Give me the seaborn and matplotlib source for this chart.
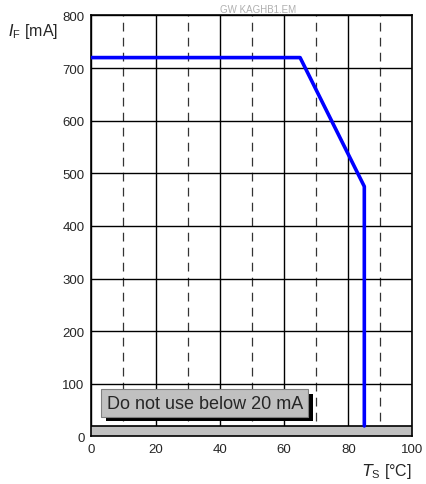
import matplotlib
matplotlib.use("Agg")
import matplotlib.pyplot as plt
import matplotlib.patheffects as pe
import pandas as pd
import seaborn as sns

# derating curve
temps = [0, 65, 85, 85]
current = [720, 720, 475, 20]
x_ticks = [0, 20, 40, 60, 80, 100]
y_ticks = [0, 100, 200, 300, 400, 500, 600, 700, 800]
min_current = 20

df = pd.DataFrame({"T_S": temps, "I_F": current})

sns.set_style("white")
plt.rcParams["font.family"] = ["Liberation Sans", "DejaVu Sans"]

fig = plt.figure(figsize=(4.27, 4.85), dpi=100)
ax = fig.add_axes([0.214, 0.098, 0.752, 0.868])

ax.set_xlim(0, 100)
ax.set_ylim(0, 800)
ax.set_xticks(x_ticks)
ax.set_xticks([10, 30, 50, 70, 90], minor=True)
ax.set_yticks(y_ticks)
ax.grid(which="major", color="black", linewidth=1.0, linestyle="-")
ax.grid(which="minor", axis="x", color="#333333", linewidth=0.9, linestyle=(0, (7, 5)))
ax.tick_params(which="major", length=3, width=1, color="black", labelsize=9.5, pad=2)
ax.tick_params(which="minor", length=0)
for s in ax.spines.values():
    s.set_color("black")
    s.set_linewidth(1.2)

# forbidden band below 20 mA
ax.axhspan(0, min_current, facecolor="#c0c0c0", edgecolor="black", linewidth=1.2, zorder=3)

sns.lineplot(data=df, x="T_S", y="I_F", sort=False, estimator=None, color="#0000ff",
             linewidth=2.6, ax=ax, zorder=4)

t = ax.text(4.8, 63, "Do not use below 20 mA", fontsize=13, va="center", ha="left",
            zorder=5,
            bbox=dict(boxstyle="square,pad=0.3", facecolor="#c0c0c0",
                      edgecolor="#808080", linewidth=0.8))
t.get_bbox_patch().set_path_effects([
    pe.SimplePatchShadow(offset=(3, -3), shadow_rgbFace="black", alpha=1.0),
    pe.Normal()])

ax.set_xlabel("")
ax.set_ylabel("")
fig.text(0.018, 0.915, "$I_\\mathregular{F}$ [mA]", fontsize=11.5, ha="left", va="bottom")
fig.text(0.964, 0.008, "$T_\\mathregular{S}$ [°C]", fontsize=11.5, ha="right", va="bottom")
fig.text(0.604, 0.98, "GW KAGHB1.EM", fontsize=7, color="#b0b0b0", ha="center", va="center")

fig.savefig("out.png", dpi=100)
